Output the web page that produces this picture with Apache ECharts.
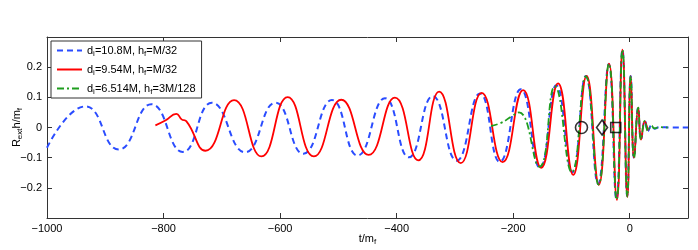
<!DOCTYPE html>
<html><head><meta charset="utf-8">
<script src="https://cdn.jsdelivr.net/npm/echarts@6/dist/echarts.min.js"></script>
<style>html,body{margin:0;padding:0;background:#fff}#c{width:698px;height:250px}</style>
</head><body><div id="c"></div>
<script>
// Series values (extrema): [t/m_f, R_ext h/m_f]
var blueT = [-1000,-934,-877,-821,-767,-717,-660,-608,-560,-511,-467,-420,-379,-338,-297,-257,-223,-187,-154,-126,-98.5,-75.4,-54.3,-36,-22.8,-12.5,-4.3,1.7,7.4,14.6,19.4,26.2,31.4,37.2,42.8,51,70,100];
var blueV = [-0.067,0.070,-0.073,0.077,-0.081,0.082,-0.082,0.082,-0.087,0.091,-0.093,0.097,-0.099,0.104,-0.110,0.113,-0.114,0.127,-0.134,0.140,-0.148,0.171,-0.187,0.210,-0.238,0.257,-0.227,0.171,-0.101,0.066,-0.040,0.023,-0.012,0.007,-0.004,0.001,0,0];
var redT = [-814,-797,-778,-769,-761,-728,-679,-632,-587,-542,-495,-448,-403,-363,-327,-290,-254,-218,-183,-152,-123,-97,-74,-53,-35.5,-22,-12.5,-4,1.7,7.4,14.6,19.4,25.7,31];
var redV = [0.007,0.023,0.045,0.027,0.021,-0.077,0.091,-0.096,0.101,-0.096,0.092,-0.091,0.099,-0.109,0.119,-0.118,0.115,-0.115,0.124,-0.134,0.146,-0.157,0.171,-0.190,0.212,-0.240,0.258,-0.230,0.170,-0.100,0.066,-0.040,0.020,-0.010];
var greenT = [-238,-220,-202,-190,-155,-128.5,-99.4,-75.4,-53.5,-35.7,-22.5,-12.5,-4.2,1.7,7.4,14.6,19.4,26,31.4,37,43,50,65];
var greenV = [0.005,0.016,0.038,0.050,-0.130,0.136,-0.148,0.169,-0.189,0.211,-0.239,0.258,-0.229,0.171,-0.101,0.066,-0.040,0.022,-0.012,0.006,-0.003,0.001,0];
var markerT = [-82.8,-47.5,-24];
var markerV = [0,0,0];
var seriesNames = ['{n|d}{s|i}{n|=10.8M, h}{s|f}{n|=M/32}','{n|d}{s|i}{n|=9.54M, h}{s|f}{n|=M/32}','{n|d}{s|i}{n|=6.514M, h}{s|f}{n|=3M/128}'];
var xTicks = {min:-1000, max:100, interval:200};
var yTicks = {min:-0.3, max:0.3, interval:0.1};

function zip(a,b){return a.map(function(v,i){return [v,b[i]];});}
var FONT = 'Liberation Sans, Arial, Helvetica, sans-serif';
var AX = '#333';
function fmt(v){ if (Math.abs(v) < 1e-9) return '0'; var s = String(Math.round(v*10)/10); return s.replace('-', '\u2212'); }

var chart = echarts.init(document.getElementById('c'), null, {renderer:'canvas'});
var axisCommon = {
  axisLine:{show:true, onZero:false, lineStyle:{color:AX, width:1}},
  axisTick:{show:true, inside:true, length:5, lineStyle:{color:AX}},
  splitLine:{show:false}
};
chart.setOption({
  backgroundColor:'#fff',
  animation:false,
  grid:{left:47, right:10, top:37, bottom:32, containLabel:false, outerBoundsMode:'none'},
  legend:{
    orient:'vertical', left:51, top:41, itemWidth:25, itemHeight:12, itemGap:5,
    padding:[3,6,2,5], backgroundColor:'#fff', borderColor:'#333', borderWidth:1, borderRadius:0,
    data: seriesNames,
    itemStyle:{color:'rgba(0,0,0,0)', borderColor:'rgba(0,0,0,0)', borderWidth:0, opacity:0},
    textStyle:{color:'#000', fontFamily:FONT, fontSize:11,
      rich:{n:{fontSize:11, fontFamily:FONT, color:'#000', lineHeight:15, verticalAlign:'middle'},
            s:{fontSize:8, fontFamily:FONT, color:'#000', lineHeight:15, verticalAlign:'bottom', padding:[6,0,0,0]}}}
  },
  xAxis:[
    Object.assign({type:'value', position:'bottom', min:xTicks.min, max:xTicks.max, interval:xTicks.interval,
      name:'{n|t/m}{s|f}', nameLocation:'middle', nameGap:14, nameMoveOverlap:false,
      nameTextStyle:{color:'#000', fontFamily:FONT, fontSize:11,
        rich:{n:{fontSize:11,fontFamily:FONT,color:'#000'}, s:{fontSize:8,fontFamily:FONT,color:'#000',padding:[6,0,0,0]}}},
      axisLabel:{color:'#000', fontFamily:FONT, fontSize:11, margin:5, showMaxLabel:false,
        formatter:function(v){ return v>50 ? '' : String(v).replace('-','\u2212'); }}}, axisCommon),
    Object.assign({type:'value', position:'top', min:xTicks.min, max:xTicks.max, interval:xTicks.interval,
      axisLabel:{show:false}}, axisCommon)
  ],
  yAxis:[
    Object.assign({type:'value', position:'left', min:yTicks.min, max:yTicks.max, interval:yTicks.interval,
      name:'{n|R}{s|ext}{n|h/m}{s|f}', nameLocation:'middle', nameGap:30, nameRotate:90, nameMoveOverlap:false,
      nameTextStyle:{color:'#000', fontFamily:FONT, fontSize:11, verticalAlign:'middle', align:'center',
        rich:{n:{fontSize:11,fontFamily:FONT,color:'#000'}, s:{fontSize:8,fontFamily:FONT,color:'#000',padding:[6,0,0,0]}}},
      axisLabel:{color:'#000', fontFamily:FONT, fontSize:11, margin:5,
        formatter:function(v){ return Math.abs(v)>0.25 ? '' : fmt(v); }}}, axisCommon),
    Object.assign({type:'value', position:'right', min:yTicks.min, max:yTicks.max, interval:yTicks.interval,
      axisLabel:{show:false}}, axisCommon)
  ],
  series:[
    {name:seriesNames[0], type:'line', data:zip(blueT,blueV), smooth:0.5, symbol:'none', z:2,
      lineStyle:{color:'#2a4cff', width:2, type:[6,4]}, itemStyle:{color:'#2a4cff'}},
    {name:seriesNames[1], type:'line', data:zip(redT,redV), smooth:0.5, symbol:'none', z:3,
      lineStyle:{color:'#ff0000', width:1.8, type:'solid'}, itemStyle:{color:'#ff0000'}},
    {name:seriesNames[2], type:'line', data:zip(greenT,greenV), smooth:0.5, symbol:'none', z:4,
      lineStyle:{color:'#1e9e1e', width:1.8, type:[7,3,2,3]}, itemStyle:{color:'#1e9e1e'}},
    {type:'scatter', z:10, silent:true,
      data:[
        {value:[markerT[0],markerV[0]], symbol:'circle', symbolSize:12},
        {value:[markerT[1],markerV[1]], symbol:'diamond', symbolSize:[11,15]},
        {value:[markerT[2],markerV[2]], symbol:'rect', symbolSize:10}
      ],
      itemStyle:{color:'rgba(255,255,255,0)', borderColor:'#000', borderWidth:1.6}}
  ]
});
</script></body></html>
